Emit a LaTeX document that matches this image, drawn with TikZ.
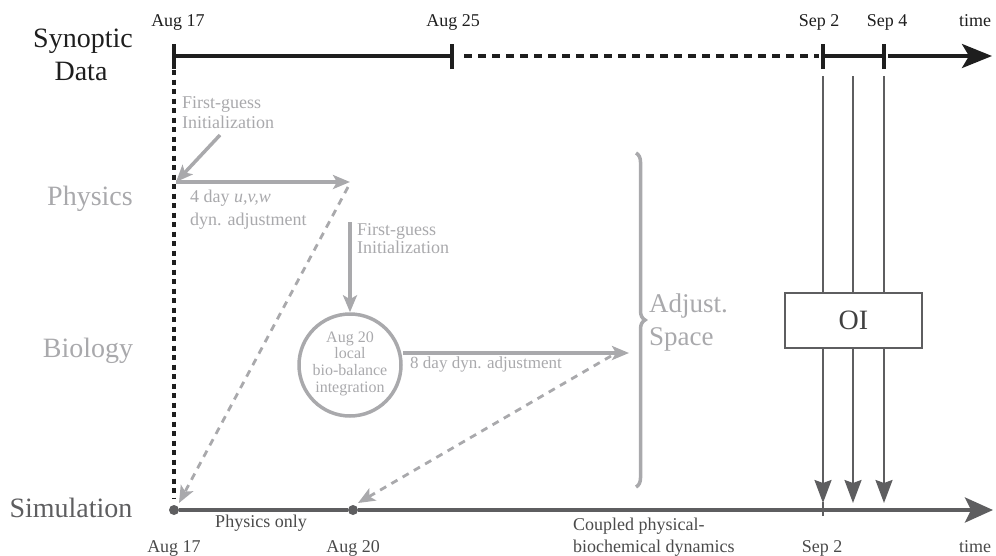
\documentclass[tikz,border=0pt]{standalone}
\usepackage{fontspec}
\setmainfont{Liberation Serif}
\usetikzlibrary{arrows.meta,decorations.pathreplacing}
\definecolor{lg}{HTML}{A9A9AC}
\definecolor{dg}{HTML}{5E5E60}
\definecolor{tx}{HTML}{4A4A4A}
\definecolor{bk}{HTML}{1E1E1E}
\begin{document}
\begin{tikzpicture}[x=1pt,y=-1pt,
  big/.style={font=\fontsize{28}{30}\selectfont,inner sep=0pt,anchor=base},
  sm/.style={font=\fontsize{18}{20}\selectfont,inner sep=0pt,anchor=base},
  cs/.style={font=\fontsize{16}{17}\selectfont,inner sep=0pt,anchor=base},
  garrow/.style={draw=lg,line width=3.5pt,-{Stealth[length=17pt,width=14pt,inset=4pt]}},
  gdash/.style={draw=lg,line width=2.8pt,dash pattern=on 7pt off 6pt,-{Stealth[length=17pt,width=14pt,inset=4pt]}},
  oiline/.style={draw=dg,line width=2.3pt,-{Stealth[length=23pt,width=17pt,inset=3pt]}},
  dotn/.style={circle,fill=dg,inner sep=0pt,minimum size=10pt}]
\useasboundingbox (0,0) rectangle (996,555);

% ---- top synoptic timeline
\coordinate (t17) at (174,56);
\coordinate (t25) at (452,56);
\coordinate (s2) at (823,56);
\coordinate (s4) at (884,56);
\coordinate (tend) at (992,56);
\draw[bk,line width=3.5pt] (t17) -- (t25);
\draw[bk,line width=3.5pt,dash pattern=on 8pt off 6pt] ([xshift=12pt]t25) -- ([xshift=-4pt]s2);
\draw[bk,line width=3.5pt] (s2) -- (s4);
\draw[bk,line width=3.5pt,-{Stealth[length=30pt,width=24pt,inset=7pt]}] ([xshift=4pt]s4) -- (tend);
\foreach \p in {t17,t25,s2,s4}
  \draw[bk,line width=3.5pt] ([yshift=-13pt]\p) -- ([yshift=12pt]\p);

\node[sm,text=bk] (l17) at (178,26) {Aug 17};
\node[sm,text=bk] (l25) at (453,26) {Aug 25};
\node[sm,text=bk] (ls2) at (819,26) {Sep 2};
\node[sm,text=bk] (ls4) at (887,26) {Sep 4};
\node[sm,text=bk] (lt) at (975,26) {time};

\node[big,text=bk] (syn) at (83,47) {Synoptic};
\node[big,text=bk] (dat) at (81,80) {Data};
\node[big,text=lg] (phy) at (90,205) {Physics};
\node[big,text=lg] (bio) at (88,357) {Biology};
\node[big,text=dg] (sim) at (71,517) {Simulation};

% ---- dotted vertical
\coordinate (dtop) at (174,70);
\coordinate (dbot) at (174,498);
\draw[bk,line width=3.5pt,dash pattern=on 5pt off 4.5pt] (dtop) -- (dbot);

% ---- physics
\node[sm,text=lg,anchor=base west] (fg1) at (182,108) {First-guess};
\node[sm,text=lg,anchor=base west] (fg1b) at (182,128) {Initialization};
\coordinate (fga) at (220,135);
\coordinate (p0) at (176,182);
\coordinate (p1) at (350,182);
\draw[garrow] (fga) -- (p0);
\draw[garrow] (p0) -- (p1);
\node[sm,text=lg,anchor=base west] (d4) at (190,202) {4 day \textit{u,v,w}};
\node[sm,text=lg,anchor=base west] (d4b) at (190,225) {dyn. adjustment};

% ---- biology
\coordinate (v0) at (350,222);
\node[circle,draw=lg,line width=3.5pt,minimum size=102pt,inner sep=0pt] (circ) at (350,365) {};
\node[cs,text=lg] (c1) at (350,342) {Aug 20};
\node[cs,text=lg] (c2) at (350,358) {local};
\node[cs,text=lg] (c3) at (350,375) {bio-balance};
\node[cs,text=lg] (c4) at (350,392) {integration};
\draw[garrow] (v0) -- (circ.north);
\node[sm,text=lg,anchor=base west] (fg2) at (357,235) {First-guess};
\node[sm,text=lg,anchor=base west] (fg2b) at (357,253) {Initialization};

\coordinate (a8) at (629,353);
\draw[garrow] (circ.east |- a8) -- (a8);
\node[cs,text=lg,anchor=base west,font=\fontsize{17}{18}\selectfont] (l8) at (410,368) {8 day dyn. adjustment};

% ---- brace
\coordinate (bt) at (636,153);
\coordinate (bb) at (636,487);
\draw[lg,line width=3.5pt,decorate,decoration={brace,amplitude=9pt,aspect=0.5}] (bt) -- (bb);
\node[big,text=lg,anchor=base west,font=\fontsize{27}{28}\selectfont] (adj) at (649,312) {Adjust.};
\node[big,text=lg,anchor=base west,font=\fontsize{27}{28}\selectfont] (spc) at (649,345) {Space};

% ---- simulation timeline
\node[dotn] (d17) at (174,510) {};
\node[dotn] (d20) at (353,510) {};
\coordinate (sep2) at (823,510);
\coordinate (send) at (993,510);
\draw[dg,line width=3.5pt] (d17) -- (d20);
\draw[dg,line width=3.5pt,-{Stealth[length=28pt,width=25pt,inset=6pt]}] (d20) -- (send);
\draw[dg,line width=2.8pt] ([yshift=-6pt]sep2) -- ([yshift=8pt]sep2);

% ---- dashed gray arrows
\coordinate (dd1) at (348,187);
\coordinate (dd1e) at (179,503);
\draw[gdash] (dd1) -- (dd1e);
\coordinate (dd2) at (611,356);
\draw[gdash] (dd2) -- (358,503);

% ---- OI
\node[draw=dg,line width=2.8pt,minimum width=137pt,minimum height=55pt,inner sep=0pt,font=\fontsize{28}{30}\selectfont,text=bk!85] (oi) at (853.5,320.5) {OI};
\foreach \x/\n in {823/a,853/b,884/c}{
  \coordinate (u\n) at (\x,76);
  \coordinate (w\n) at (\x,503);
  \draw[dg,line width=2.3pt] (u\n) -- (u\n |- oi.north);
  \draw[oiline] (u\n |- oi.south) -- (w\n);
}

% ---- bottom labels
\node[sm,text=tx] (po) at (261,527) {Physics only};
\node[sm,text=tx] (b17) at (174,552) {Aug 17};
\node[sm,text=tx] (b20) at (353,552) {Aug 20};
\node[sm,text=tx,anchor=base west] (cp1) at (573,530) {Coupled physical-};
\node[sm,text=tx,anchor=base west] (cp2) at (573,552) {biochemical dynamics};
\node[sm,text=tx] (bs2) at (822,552) {Sep 2};
\node[sm,text=tx] (bt2) at (975,552) {time};
\end{tikzpicture}
\end{document}
